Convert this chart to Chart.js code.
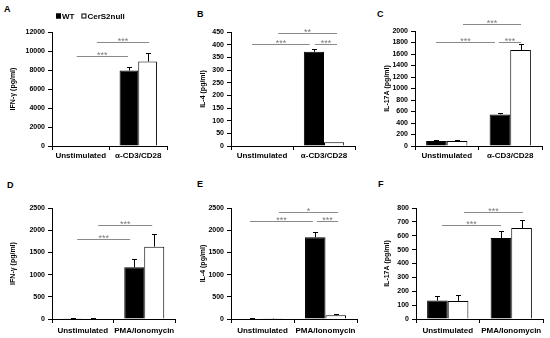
<!DOCTYPE html>
<html>
<head>
<meta charset="utf-8">
<script src="https://cdn.jsdelivr.net/npm/chart.js@4.4.0/dist/chart.umd.min.js"></script>
<style>
  body { margin: 0; background: #fff; width: 550px; height: 338px; position: relative; overflow: hidden;
         font-family: "Liberation Sans", Arial, sans-serif; }
  canvas { position: absolute; }
  .panel { position: absolute; font-weight: bold; font-size: 9px; line-height: 9px; color: #000; }
</style>
</head>
<body>
<div class="panel" style="left:4px;top:5px">A</div>
<div class="panel" style="left:197px;top:10px">B</div>
<div class="panel" style="left:377px;top:10px">C</div>
<div class="panel" style="left:7px;top:181px">D</div>
<div class="panel" style="left:197px;top:180px">E</div>
<div class="panel" style="left:378px;top:180px">F</div>

<canvas id="cA"></canvas>
<canvas id="cB"></canvas>
<canvas id="cC"></canvas>
<canvas id="cD"></canvas>
<canvas id="cE"></canvas>
<canvas id="cF"></canvas>

<script>
// categories and series
const groupsTop = ['Unstimulated', 'α-CD3/CD28'];
const groupsBottom = ['Unstimulated', 'PMA/Ionomycin'];
const seriesNames = ['WT', 'CerS2null'];

// A - IFN-γ, anti-CD3/CD28
const wtA = [0, 7950], wtErrA = [0, 350];
const koA = [0, 8900], koErrA = [0, 900];
const axisA = [0, 12000, 2000];
const sigA = [[-0.07, 0.82, 9470, '***'], [0.28, 1.19, 10950, '***']];

// B - IL-4, anti-CD3/CD28
const wtB = [0, 372], wtErrB = [0, 9];
const koB = [0, 15], koErrB = [0, 0];
const axisB = [0, 450, 50];
const sigB = [[-0.16, 0.77, 404, '***'], [0.855, 1.21, 404, '***'], [0.26, 1.21, 446, '**']];

// C - IL-17A, anti-CD3/CD28
const wtC = [85, 550], wtErrC = [22, 25];
const koC = [85, 1670], koErrC = [22, 110];
const axisC = [0, 2000, 200];
const sigC = [[-0.17, 0.76, 1808, '***'], [0.82, 1.17, 1808, '***'], [0.256, 1.17, 2127, '***']];

// D - IFN-γ, PMA/Ionomycin
const wtD = [15, 1165], wtErrD = [5, 185];
const koD = [10, 1630], koErrD = [5, 295];
const axisD = [0, 2500, 500];
const sigD = [[-0.09, 0.77, 1791, '***'], [0.25, 1.13, 2112, '***']];

// E - IL-4, PMA/Ionomycin
const wtE = [10, 1840], wtErrE = [3, 110];
const koE = [8, 85], koErrE = [3, 30];
const axisE = [0, 2500, 500];
const sigE = [[-0.2, 0.8, 2200, '***'], [0.865, 1.2, 2200, '***'], [0.26, 1.2, 2402, '*']];

// F - IL-17A, PMA/Ionomycin
const wtF = [133, 583], wtErrF = [36, 53];
const koF = [130, 655], koErrF = [40, 56];
const axisF = [0, 800, 100];
const sigF = [[-0.09, 0.84, 675, '***'], [0.256, 1.185, 769, '***']];

// error bars, significance lines and the legend
const extras = {
  id: 'extras',
  afterDatasetsDraw(chart, args, opts) {
    const ctx = chart.ctx;
    const xs = chart.scales.x, ys = chart.scales.y;
    ctx.save();

    chart.data.datasets.forEach((ds, i) => {
      chart.getDatasetMeta(i).data.forEach((bar, j) => {
        const e = ds.err ? ds.err[j] : 0;
        if (!e) return;
        const top = Math.round(ys.getPixelForValue(ds.data[j] + e)) + 0.5;
        const bx = Math.round(bar.x) + 0.5;
        ctx.strokeStyle = '#000';
        ctx.lineWidth = 1;
        ctx.beginPath();
        ctx.moveTo(bx, bar.y);
        ctx.lineTo(bx, top);
        ctx.moveTo(bx - 2.5, top);
        ctx.lineTo(bx + 2.5, top);
        ctx.stroke();
      });
    });

    (opts.sig || []).forEach(([a, b, v, txt]) => {
      const x1 = xs.getPixelForValue(a), x2 = xs.getPixelForValue(b);
      const yy = Math.round(ys.getPixelForValue(v)) + 0.5;
      ctx.strokeStyle = '#8a8a8a';
      ctx.lineWidth = 1;
      ctx.beginPath();
      ctx.moveTo(x1, yy);
      ctx.lineTo(x2, yy);
      ctx.stroke();
      ctx.fillStyle = '#7a7a7a';
      ctx.font = '9px "Liberation Sans", Arial, sans-serif';
      ctx.textAlign = 'center';
      ctx.textBaseline = 'alphabetic';
      ctx.fillText(txt, (x1 + x2) / 2, yy + 1);
    });

    if (opts.legend) {
      let x = opts.legend.x;
      const y = opts.legend.y;
      ctx.font = 'bold 8px "Liberation Sans", Arial, sans-serif';
      ctx.textAlign = 'left';
      ctx.textBaseline = 'middle';
      chart.data.datasets.forEach(ds => {
        ctx.fillStyle = ds.backgroundColor;
        ctx.fillRect(x, y - 2.5, 5, 5);
        ctx.strokeStyle = '#000';
        ctx.lineWidth = 1;
        ctx.strokeRect(x + 0.5, y - 2, 4, 4);
        ctx.fillStyle = '#000';
        ctx.fillText(ds.label, x + 6, y + 0.5);
        x += 6 + ctx.measureText(ds.label).width + 7;
      });
    }
    ctx.restore();
  }
};

Chart.defaults.font.family = '"Liberation Sans", Arial, sans-serif';
Chart.defaults.color = '#000';

function makePanel(id, box, groups, wt, wtErr, ko, koErr, axis, sig, yTitle, legend) {
  const cv = document.getElementById(id);
  cv.width = box.w;
  cv.height = box.h;
  cv.style.left = box.left + 'px';
  cv.style.top = box.top + 'px';

  new Chart(cv, {
    type: 'bar',
    data: {
      labels: groups,
      datasets: [
        { label: seriesNames[0], data: wt, err: wtErr, backgroundColor: '#000', borderColor: '#000', borderWidth: 1 },
        { label: seriesNames[1], data: ko, err: koErr, backgroundColor: '#fff', borderColor: '#000', borderWidth: 1 }
      ]
    },
    options: {
      responsive: false,
      animation: false,
      devicePixelRatio: 1,
      layout: { padding: { left: 0, top: box.areaTop - box.top, right: box.left + box.w - box.areaRight, bottom: 0 } },
      datasets: { bar: { barPercentage: 1, categoryPercentage: 0.65 } },
      plugins: {
        legend: { display: false },
        tooltip: { enabled: false },
        extras: { sig: sig, legend: legend }
      },
      scales: {
        x: {
          grid: { drawOnChartArea: false, drawTicks: true, tickLength: 4, color: '#000', offset: true },
          border: { color: '#000', width: 1 },
          ticks: { color: '#000', font: { size: 8, weight: 'bold' }, padding: box.xPad, maxRotation: 0, autoSkip: false },
          afterFit(s) { s.height = box.top + box.h - box.areaBottom; }
        },
        y: {
          min: axis[0],
          max: axis[1],
          grid: { drawOnChartArea: false, tickLength: 4, color: '#000' },
          border: { color: '#000', width: 1 },
          ticks: { stepSize: axis[2], autoSkip: false, color: '#000', font: { size: 7, weight: 'bold' }, padding: 3,
                   callback: v => String(v) },
          title: { display: true, text: yTitle, color: '#000', font: { size: 7, weight: 'bold' }, padding: { top: 9, bottom: 0 } },
          afterFit(s) { s.width = box.axisX - box.left; }
        }
      }
    },
    plugins: [extras]
  });
}

makePanel('cA', { left: 0, top: 0, w: 184, h: 170, axisX: 52, areaTop: 32, areaBottom: 146, areaRight: 167, xPad: 1 },
  groupsTop, wtA, wtErrA, koA, koErrA, axisA, sigA, 'IFN-γ (pg/ml)', { x: 56, y: 16 });
makePanel('cB', { left: 190, top: 0, w: 182, h: 170, axisX: 231, areaTop: 32, areaBottom: 146, areaRight: 355, xPad: 1 },
  groupsTop, wtB, wtErrB, koB, koErrB, axisB, sigB, 'IL-4 (pg/ml)', null);
makePanel('cC', { left: 374, top: 0, w: 176, h: 170, axisX: 415, areaTop: 31, areaBottom: 146, areaRight: 542, xPad: 1 },
  groupsTop, wtC, wtErrC, koC, koErrC, axisC, sigC, 'IL-17A (pg/ml)', null);
makePanel('cD', { left: 0, top: 170, w: 184, h: 168, axisX: 52, areaTop: 208, areaBottom: 319, areaRight: 175, xPad: 3 },
  groupsBottom, wtD, wtErrD, koD, koErrD, axisD, sigD, 'IFN-γ (pg/ml)', null);
makePanel('cE', { left: 190, top: 170, w: 182, h: 168, axisX: 231, areaTop: 208, areaBottom: 319, areaRight: 357, xPad: 3 },
  groupsBottom, wtE, wtErrE, koE, koErrE, axisE, sigE, 'IL-4 (pg/ml)', null);
makePanel('cF', { left: 374, top: 170, w: 176, h: 168, axisX: 416, areaTop: 208, areaBottom: 319, areaRight: 543, xPad: 3 },
  groupsBottom, wtF, wtErrF, koF, koErrF, axisF, sigF, 'IL-17A (pg/ml)', null);
</script>
</body>
</html>
